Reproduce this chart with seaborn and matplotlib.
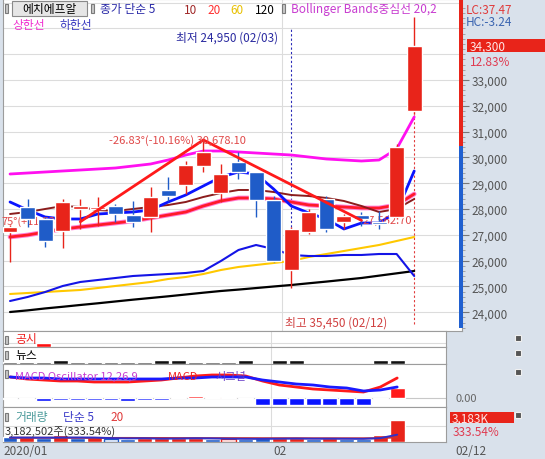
import numpy as np
import pandas as pd
import seaborn as sns
import matplotlib.pyplot as plt
from matplotlib.patches import Rectangle
from matplotlib.transforms import Affine2D

# 에치에프알 daily candles, 2020/01/08 ~ 2020/02/12
dates = ["01/08", "01/09", "01/10", "01/13", "01/14", "01/15", "01/16", "01/17",
         "01/20", "01/21", "01/22", "01/23", "01/28", "01/29", "01/30", "01/31",
         "02/03", "02/04", "02/05", "02/06", "02/07", "02/10", "02/11", "02/12"]
open_ = [27110, 28080, 27615, 27150, 28000, 28000, 28118, 27770, 27692, 28738, 28932, 29668,
         28622, 29823, 29435, 28351, 25640, 27111, 28390, 27498, 27770, 27500, 27692, 31800]
close = [27305, 27615, 26762, 28273, 28118, 28080, 27808, 27498, 28467, 28506, 29707, 30210,
         29358, 29435, 28351, 25987, 27227, 27886, 27227, 27731, 27615, 27420, 30400, 34300]
high = [27400, 28390, 27690, 28390, 28390, 28470, 28196, 28312, 28855, 29242, 29862, 30678,
        29746, 30210, 29450, 28506, 27305, 28002, 28506, 27808, 27886, 27925, 30520, 35450]
low = [25950, 27305, 26530, 26490, 27227, 27340, 27498, 27305, 27111, 28312, 28583, 29435,
       28273, 29164, 27692, 25949, 24950, 27033, 27111, 27227, 27344, 27227, 27615, 31700]

# moving averages (종가 단순 5/10/20/60/120) and bollinger bands
ma5 = [28274, 27964, 27693, 27615, 27615, 27809, 27848, 27886, 27964, 28274, 28545, 28894,
       29242, 29436, 29358, 28777, 28119, 27848, 27615, 27228, 27460, 27460, 27886, 29475]
ma10 = [27809, 27886, 28003, 28119, 28080, 27964, 27925, 28003, 28080, 28158, 28274, 28468,
        28623, 28739, 28739, 28661, 28545, 28506, 28429, 28313, 28119, 27886, 28003, 28390]
ma20 = [26918, 26995, 27111, 27228, 27305, 27383, 27460, 27538, 27654, 27770, 27886, 28119,
        28313, 28429, 28429, 28390, 28274, 28158, 28119, 28080, 28041, 28041, 28158, 28584]
ma60 = [24710, 24748, 24787, 24826, 24865, 24942, 25020, 25097, 25175, 25291, 25368, 25484,
        25639, 25756, 25833, 25911, 25988, 26143, 26259, 26375, 26492, 26608, 26763, 26918]
ma120 = [24012, 24075, 24150, 24215, 24284, 24350, 24420, 24490, 24555, 24620, 24690, 24760,
         24826, 24880, 24940, 25000, 25058, 25125, 25190, 25260, 25330, 25420, 25510, 25600]
bb_up = [29358, 29397, 29436, 29475, 29513, 29552, 29591, 29668, 29746, 29901, 30094, 30249,
         30249, 30211, 30172, 30133, 30094, 30017, 29940, 29901, 29862, 29901, 30327, 31567]
bb_dn = [24438, 24594, 24787, 25020, 25175, 25252, 25329, 25407, 25446, 25484, 25523, 25601,
         25988, 26414, 26608, 26453, 26221, 26182, 26182, 26221, 26221, 26259, 26259, 25407]

# trend lines (index, price)
trend_x = [4, 11, 20]
trend_y = [27510, 30678.10, 27562.70]

# 공시 / 뉴스 counts (0 none, 1 thin, 2 thick)
notice = [0, 0, 2, 0, 0, 0, 0, 0, 0, 0, 0, 0, 0, 0, 0, 0, 0, 0, 0, 0, 0, 0, 0, 0]
news = [1, 1, 1, 2, 1, 1, 1, 1, 1, 2, 2, 1, 1, 1, 2, 0, 2, 2, 0, 0, 0, 0, 2, 2]

# MACD 12,26,9
macd = [21, 19, 18, 17, 17, 16, 16, 16, 17, 18, 20, 22, 23, 23, 22, 17, 13, 11, 9, 8, 7, 6, 11, 20]
signal = [21, 20, 20, 19, 19, 19, 19, 19, 19, 19, 20, 20, 21, 21, 21, 18, 16, 14, 13, 11, 10, 7, 8, 11]
osc = [-1, -1, -3, -1.5, -1.5, -1.5, -1.5, -3, -2, -1.5, 1, 2.5, 1.5, 1, -0.5,
       -7, -7, -7, -7, -7, -7, -7, -0.5, 10]

# 거래량 (K)
vol = [700, 700, 560, 980, 560, 700, 420, 420, 560, 560, 560, 560,
       420, 420, 420, 560, 560, 560, 420, 560, 420, 420, 954, 3183]
vol_dir = "brbrbrbbrrrrbrbbrrbrbbrr"
vol_hollow = [6, 13]
vol_ma5 = [650, 640, 630, 640, 650, 640, 560, 520, 540, 480, 500, 540,
           520, 480, 460, 460, 480, 500, 480, 480, 470, 460, 560, 1060]
vol_ma20 = [620, 620, 610, 610, 600, 600, 590, 590, 580, 580, 570, 570,
            560, 560, 560, 550, 550, 550, 540, 540, 540, 540, 560, 680]

RED = "#e8241a"
BLUE = "#1f5cc8"

sns.set_style("white")
plt.rcParams['font.family'] = ['Noto Sans CJK KR', 'DejaVu Sans']

W, H = 545, 460
fig = plt.figure(figsize=(W / 100, H / 100), dpi=100, facecolor="#d9e1eb")
pix = Affine2D().scale(1 / W, -1 / H).translate(0, 1) + fig.transFigure


def panel(x0, y0, x1, y1):
    a = fig.add_axes([x0 / W, 1 - y1 / H, (x1 - x0) / W, (y1 - y0) / H])
    a.set_facecolor("white")
    for s in a.spines.values():
        s.set_color("#9c9c9c")
        s.set_linewidth(0.8)
    a.set_xticks([])
    a.set_yticks([])
    return a


def txt(x, y, s, color="black", size=8, ha="left", **kw):
    fig.text(x, y, s, transform=pix, color=color, fontsize=size, ha=ha, va="center", **kw)


def box(x, y, w, h, fc, ec="none", z=2):
    fig.add_artist(Rectangle((x, y), w, h, transform=pix, facecolor=fc,
                             edgecolor=ec, lw=0.8, zorder=z))


x = np.arange(len(dates))
up = np.array(close) >= np.array(open_)
ccol = np.where(up, RED, BLUE)

# ---- price chart ----
ax = panel(3, 0, 462, 332)
ax.set_xlim(-0.4, 25.72)
ax.set_ylim(23276, 36138)
for p in range(24000, 37000, 1000):
    ax.axhline(p, color="#dcdcdc", lw=0.8, zorder=0)
ax.axvline(15.5, color="#dcdcdc", lw=0.8, zorder=0)

ax.yaxis.tick_right()
ax.set_yticks(range(24000, 34000, 1000))
ax.set_yticklabels([f"{p:,}" for p in range(24000, 34000, 1000)])
ax.set_yticks(range(23400, 36000, 200), minor=True)
ax.tick_params(axis="y", which="major", direction="out", length=5, width=0.8,
               color="#777777", labelcolor="#555555", labelsize=8.5, pad=2)
ax.tick_params(axis="y", which="minor", direction="out", length=2, width=0.6, color="#999999")

sns.lineplot(x=x, y=ma120, ax=ax, color="black", lw=1.6, zorder=2, legend=False)
sns.lineplot(x=x, y=ma60, ax=ax, color="#ffc800", lw=1.5, zorder=2, legend=False)
sns.lineplot(x=x, y=bb_dn, ax=ax, color="#1414e6", lw=1.5, zorder=2, legend=False)
sns.lineplot(x=x, y=bb_up, ax=ax, color="#ff10f0", lw=2, zorder=2, legend=False)
sns.lineplot(x=x, y=ma20, ax=ax, color="#ff80d8", lw=3.4, zorder=2, legend=False)
sns.lineplot(x=x, y=ma20, ax=ax, color="#ff1a2a", lw=2, zorder=2, legend=False)
sns.lineplot(x=x, y=ma10, ax=ax, color="#8b1c1c", lw=1.4, zorder=2, legend=False)
sns.lineplot(x=x, y=ma5, ax=ax, color="#0a14ff", lw=2, zorder=2, legend=False)

ax.vlines(16, high[16], 34980, colors="#2a2ab8", lw=0.8, linestyles=(0, (2, 2)), zorder=1)
ax.vlines(23, 23550, low[23], colors="#e03a3a", lw=0.8, linestyles=(0, (2, 2)), zorder=1)

ax.text(1, 222, "75°(+11.53%)", transform=pix, color="#e04848", fontsize=8,
        ha="left", va="center", zorder=4)
ax.text(363, 221, "27,562.70", transform=pix, color="#e04848", fontsize=8,
        va="center", zorder=4)

ax.vlines(x, low, high, colors=ccol, lw=1, zorder=5)
body_lo = np.minimum(open_, close)
body_h = np.maximum(np.abs(np.array(close) - np.array(open_)), 45)
ax.bar(x, body_h, bottom=body_lo, width=0.85, color=ccol, zorder=6)

ax.plot(trend_x, trend_y, color="#ff1a1a", lw=2, zorder=7)
ax.text(177, 141, "-26.83°(-10.16%) 30,678.10", transform=pix, color="#e04848",
        fontsize=8, ha="center", va="center", zorder=8)

# header texts
box(12, 2, 75, 15, "#e6e6e6", "#8a8a8a")
txt(49.5, 10, "에치에프알", "black", 8.5, "center")
for ix in (5, 91, 282):
    box(ix, 5, 3, 9, "#c8c8c8", "#7a7a7a")
txt(100, 10, "종가 단순 5", "#2a2aa8", 8.5)
txt(184, 10, "10", "#a02828", 8.5)
txt(207, 10, "20", "#ff3030", 8.5)
txt(230, 10, "60", "#e8c000", 8.5)
txt(255, 10, "120", "black", 8.5)
txt(291, 10, "Bollinger Bands중심선 20,2", "#c83cd0", 8.5)
txt(12, 25, "상한선", "#f030d0", 8.5)
txt(60, 25, "하한선", "#3a3ac0", 8.5)
txt(278, 38, "최저 24,950 (02/03)", "#2a2aa0", 8.5, "right")
txt(387, 323, "최고 35,450 (02/12)", "#d04040", 8.5, "right")

# right side of the price chart
box(459, 0, 3.5, 147, RED, z=3)
box(459, 147, 3.5, 182, "#2060d0", z=3)
txt(466, 10, "LC:37.47", "#e03a3a", 8.5)
txt(466, 23, "HC:-3.24", "#3a64b0", 8.5)
box(467, 40, 78, 13, RED)
txt(470, 47, "34,300", "#ffe6e6", 8.5)
txt(470, 62, "12.83%", "#e03a50", 8.5)

# ---- lower panels ----
xl = (-0.416, 25.9)
bw = 0.89

ax1 = panel(3, 332, 446, 348)
ax1.set_xlim(*xl)
ax1.set_ylim(0, 8)
ax1.bar(x, notice, width=bw, color="#ff1010", zorder=3)
ax1.axhline(2, color="#dcdcdc", lw=0.8, zorder=0)

ax2 = panel(3, 348, 446, 365)
ax2.set_xlim(*xl)
ax2.set_ylim(0, 8.5)
ax2.bar(x, news, width=bw, color=["#111111" if n == 2 else "#444444" for n in news], zorder=3)

ax3 = panel(3, 365, 446, 408)
ax3.set_xlim(*xl)
ax3.set_ylim(-9, 34)
ax3.axhline(0, color="#c8c8c8", lw=0.8, zorder=0)
ax3.bar(x, osc, width=bw, color=["#ff1a1a" if v > 0 else "#0a14ff" for v in osc], zorder=3)
sns.lineplot(x=x, y=macd, ax=ax3, color="#ff1a1a", lw=2, zorder=4, legend=False)
sns.lineplot(x=x, y=signal, ax=ax3, color="#1a1aff", lw=2, zorder=5, legend=False)

ax4 = panel(3, 408, 446, 443)
ax4.set_xlim(*xl)
ax4.set_ylim(0, 5075)
ax4.axhline(2320, color="#dcdcdc", lw=0.8, zorder=0)
vcol = [RED if d == "r" else BLUE for d in vol_dir]
for i in range(len(vol)):
    if i in vol_hollow:
        ax4.bar(i, vol[i], width=bw, facecolor="white", edgecolor=vcol[i], lw=1, zorder=3)
    else:
        ax4.bar(i, vol[i], width=bw, color=vcol[i], zorder=3)
sns.lineplot(x=x, y=vol_ma20, ax=ax4, color="#d03030", lw=1.4, zorder=4, legend=False)
sns.lineplot(x=x, y=vol_ma5, ax=ax4, color="#3030c8", lw=1.4, zorder=5, legend=False)

for a in (ax1, ax2, ax3, ax4):
    a.axvline(15.5, color="#dcdcdc", lw=0.8, zorder=0)

# lower panel labels
for iy in (337, 352, 371, 414):
    box(5, iy, 3, 8, "#c8c8c8", "#7a7a7a")
    box(515, iy - 1, 6, 6, "#555555", "#f0f0f0")
txt(15, 340, "공시", "#ee2020", 8.5)
txt(15, 356, "뉴스", "black", 8.5)
txt(15, 377, "MACD Oscillator 12,26,9", "#c83cd0", 8)
txt(168, 377, "MACD", "#ee2020", 8)
txt(216, 377, "시그널", "#6a40c8", 8)
txt(455, 399, "0.00", "#666666", 8)
txt(15, 418, "거래량", "#4a9a9a", 8.5)
txt(63, 418, "단순 5", "#3a3ac8", 8.5)
txt(110, 418, "20", "#e03a3a", 8.5)
txt(5, 432, "3,182,502주(333.54%)", "#333333", 8)
box(450, 413, 64, 11, RED)
txt(452, 419, "3,183K", "#ffe6e6", 8.5)
txt(453, 433, "333.54%", "#e03a50", 8.5)

# x axis strip
txt(3, 452, "2020/01", "#555555", 8.5)
txt(273, 452, "02", "#555555", 8.5)
txt(455, 452, "02/12", "#555555", 8.5)

fig.savefig("out.png", dpi=100, facecolor=fig.get_facecolor())
